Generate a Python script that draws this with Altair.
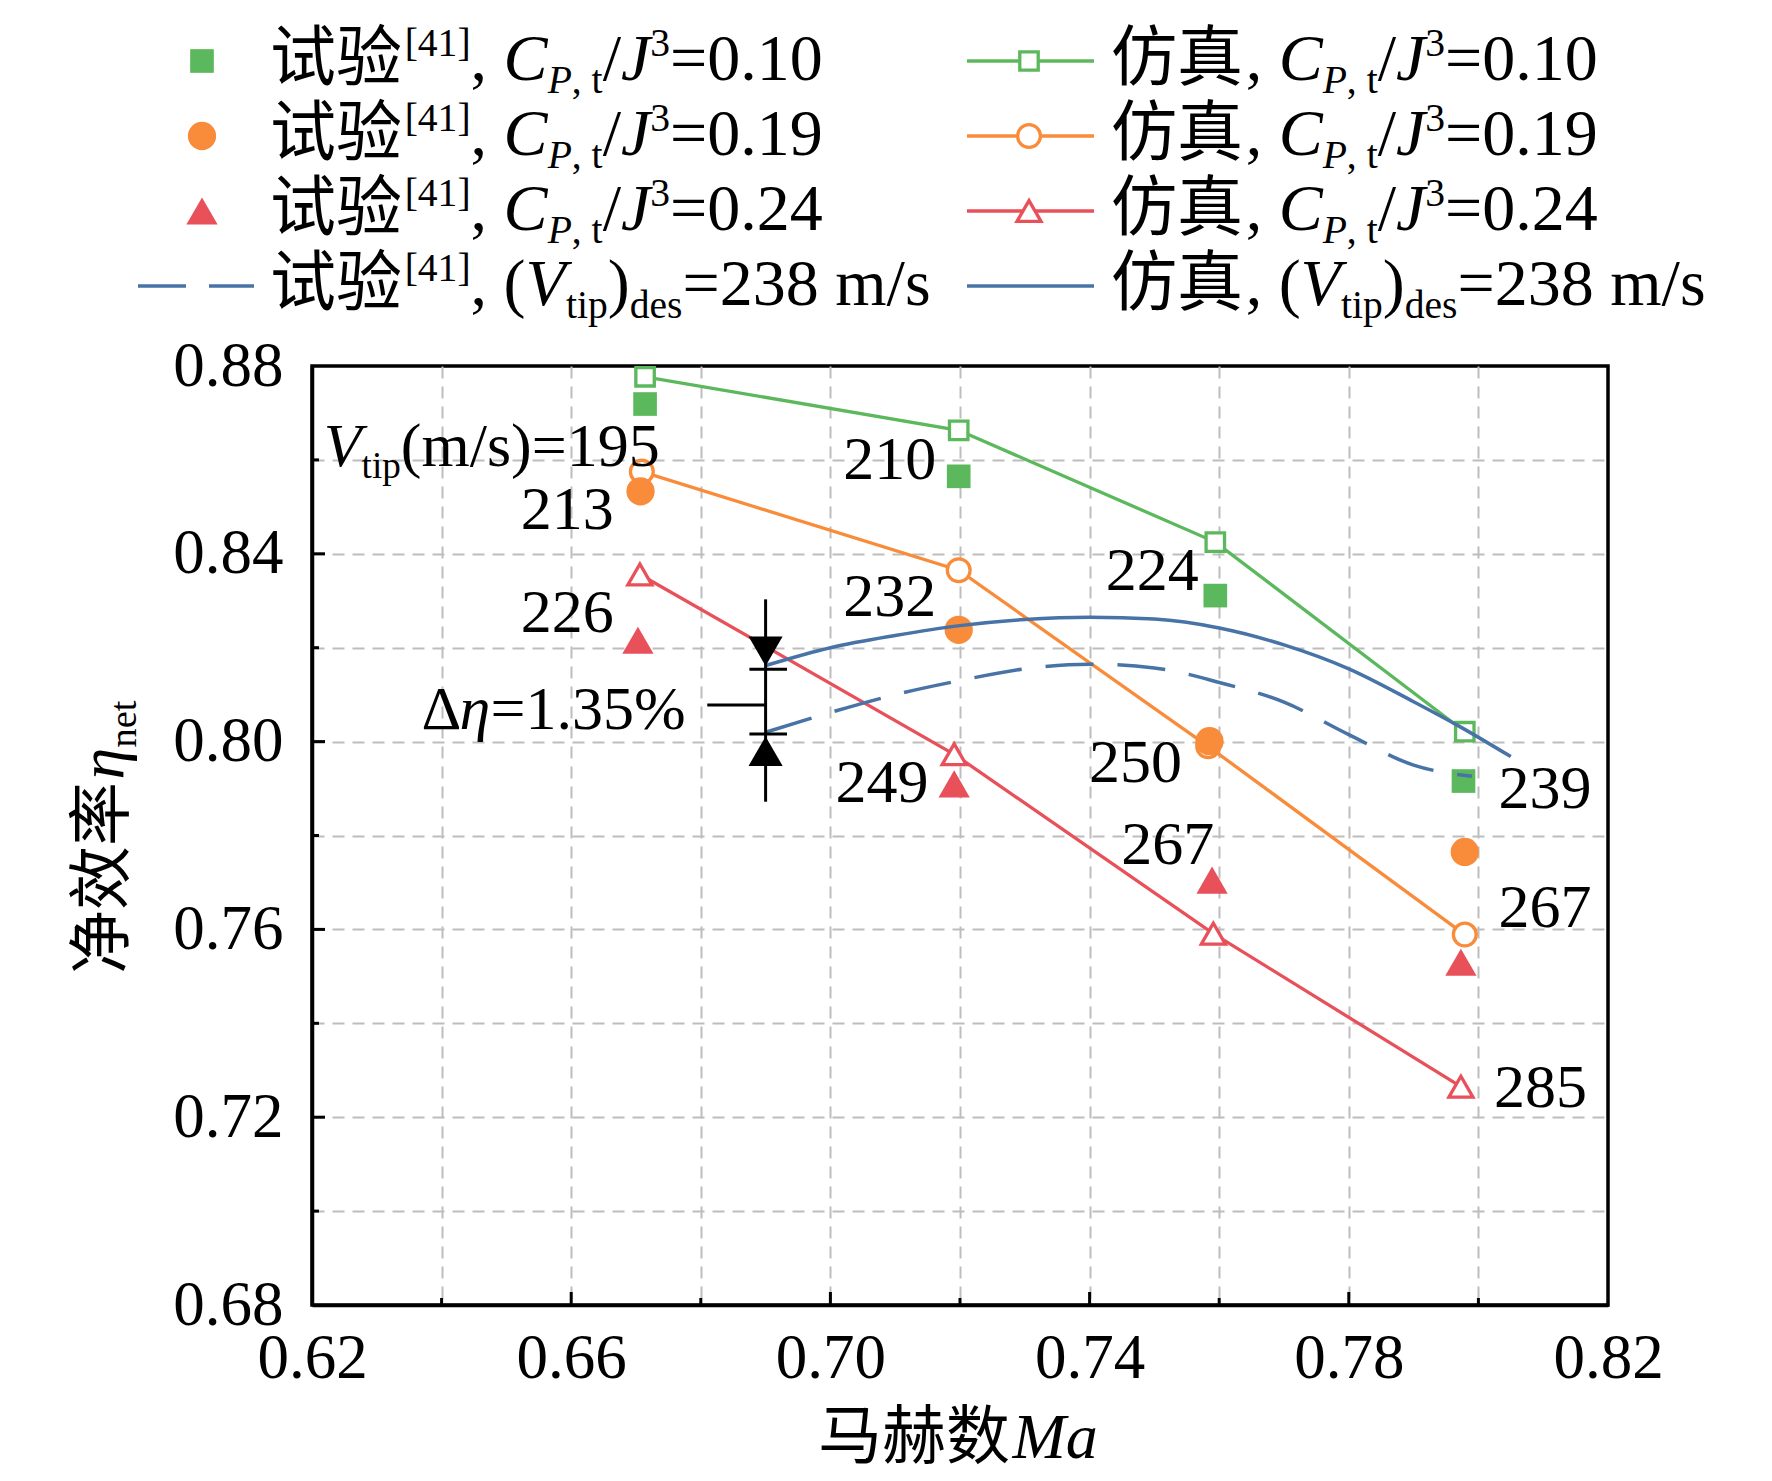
import altair as alt
import pandas as pd

# ---------------- plot geometry ----------------
W, H = 1296, 939
X0, X1 = 0.62, 0.82
Y0, Y1 = 0.68, 0.88

GREEN = "#5CB85C"
ORANGE = "#F98C3A"
RED = "#E8515A"
BLUE = "#4873A6"
GRID = "#BDBDBD"
SERIF = "Liberation Serif"
CJK = "Noto Sans CJK SC"

# ---------------- data ----------------
# simulation, open markers with lines
sim_ma_010 = [0.6714, 0.7198, 0.7594, 0.7979]
sim_eta_010 = [0.8777, 0.8663, 0.8425, 0.8021]
sim_ma_019 = [0.6709, 0.7198, 0.7583, 0.7979]
sim_eta_019 = [0.8575, 0.8365, 0.7990, 0.7589]
sim_ma_024 = [0.6706, 0.7191, 0.7591, 0.7973]
sim_eta_024 = [0.8356, 0.7973, 0.7591, 0.7265]
# experiment [41], filled markers
exp_ma_010 = [0.6714, 0.7198, 0.7594, 0.7977]
exp_eta_010 = [0.8719, 0.8565, 0.8311, 0.7916]
exp_ma_019 = [0.6707, 0.7198, 0.7585, 0.7979]
exp_eta_019 = [0.8533, 0.8238, 0.8001, 0.7765]
exp_ma_024 = [0.6703, 0.7191, 0.7589, 0.7973]
exp_eta_024 = [0.8216, 0.7910, 0.7705, 0.7530]
# design tip speed 238 m/s
des_sim_ma = [0.690, 0.700, 0.710, 0.720, 0.730, 0.740, 0.750, 0.760, 0.770, 0.780, 0.790, 0.797, 0.805]
des_sim_eta = [0.8162, 0.8200, 0.8226, 0.8247, 0.8260, 0.8265, 0.8261, 0.8242, 0.8206, 0.8155, 0.8085, 0.8033, 0.7968]
des_exp_ma = [0.690, 0.700, 0.710, 0.720, 0.730, 0.740, 0.750, 0.760, 0.770, 0.780, 0.790, 0.799]
des_exp_eta = [0.8020, 0.8062, 0.8100, 0.8130, 0.8155, 0.8165, 0.8157, 0.8126, 0.8084, 0.8015, 0.7950, 0.7926]
# tip-speed labels (left edge Ma, baseline eta)
tip_text = ["210", "213", "226", "232", "249", "224", "250", "267", "239", "267", "285"]
tip_ma = [0.7020, 0.6522, 0.6522, 0.7020, 0.7008, 0.7425, 0.7399, 0.7449, 0.8031, 0.8031, 0.8024]
tip_eta = [0.8559, 0.8453, 0.8233, 0.8268, 0.7871, 0.8322, 0.7913, 0.7740, 0.7859, 0.7605, 0.7221]
# delta-eta indicator
d_ma = 0.690
d_top, d_bot = 0.8303, 0.7872
d_hi, d_lo = 0.8154, 0.8016
d_bar = [0.6875, 0.6933]
d_lead_eta, d_lead_ma = 0.8078, 0.6810
cp_values = ["0.10", "0.19", "0.24"]
colors = [GREEN, ORANGE, RED]
shapes = ["square", "circle", "triangle-up"]
open_size = {"square": 340, "circle": 520, "triangle-up": 580}
fill_size = {"square": 560, "circle": 800, "triangle-up": 980}

x_grid = [round(0.62 + 0.02 * i, 2) for i in range(11)]
y_grid = [round(0.68 + 0.02 * i, 2) for i in range(11)]


# ---------------- helpers ----------------
def px2ma(px):
    return X0 + px / W * (X1 - X0)


def py2eta(py):
    return Y1 - py / H * (Y1 - Y0)


def ma2px(m):
    return (m - X0) / (X1 - X0) * W


def eta2py(e):
    return (Y1 - e) / (Y1 - Y0) * H


REG = {" ": 0.25, ",": 0.25, ".": 0.25, "/": 0.278, "(": 0.333, ")": 0.333, "[": 0.333,
       "]": 0.333, "=": 0.564, "%": 0.833, "m": 0.778, "s": 0.389, "t": 0.278, "i": 0.278,
       "p": 0.5, "d": 0.5, "e": 0.444, "n": 0.5, "a": 0.444, "Δ": 0.612}
ITA = {"C": 0.667, "J": 0.444, "V": 0.611, "P": 0.611, "M": 0.833, "a": 0.5, "η": 0.5}


def seg_width(text, style):
    w = 0.0
    for ch in text:
        if style == "cjk":
            w += 1.0
        elif style == "i":
            w += ITA.get(ch, REG.get(ch, 0.5))
        else:
            w += REG.get(ch, 0.5)
    if style == "cjk":
        w += 0.04
    return w


SS, SUP, SUB = 0.6, -0.36, 0.2


def rich(segs, x0, y0, fs, angle=0):
    rows = []
    adv = 0.0
    for text, style, scale, shift in segs:
        size = fs * scale
        off = shift * fs
        lead = seg_width(text[:len(text) - len(text.lstrip())], style) * size if text[:1] == " " else 0
        if angle == 0:
            px, py = x0 + adv + lead, y0 + off
        else:
            px, py = x0 + off, y0 - adv - lead
        rows.append(dict(text=text.strip(), style=style, size=size,
                         ma=px2ma(px), eta=py2eta(py), angle=angle))
        adv += seg_width(text, style) * size
    return rows


def exp_cp(v):
    return [("试验", "cjk", 1, 0), ("[41]", "n", SS, SUP), (", ", "n", 1, 0), ("C", "i", 1, 0),
            ("P", "i", SS, SUB), (", t", "n", SS, SUB), ("/", "n", 1, 0), ("J", "i", 1, 0),
            ("3", "n", SS, SUP), ("=" + v, "n", 1, 0)]


def sim_cp(v):
    return [("仿真", "cjk", 1, 0), (", ", "n", 1, 0), ("C", "i", 1, 0),
            ("P", "i", SS, SUB), (", t", "n", SS, SUB), ("/", "n", 1, 0), ("J", "i", 1, 0),
            ("3", "n", SS, SUP), ("=" + v, "n", 1, 0)]


exp_des = [("试验", "cjk", 1, 0), ("[41]", "n", SS, SUP), (", (", "n", 1, 0), ("V", "i", 1, 0),
           ("tip", "n", SS, SUB), (")", "n", 1, 0), ("des", "n", SS, SUB), ("=238 m/s", "n", 1, 0)]
sim_des = [("仿真", "cjk", 1, 0), (", (", "n", 1, 0), ("V", "i", 1, 0),
           ("tip", "n", SS, SUB), (")", "n", 1, 0), ("des", "n", SS, SUB), ("=238 m/s", "n", 1, 0)]

# ---------------- tables ----------------
sim_rows, exp_rows = [], []
for cp, c, s, sm, se, em, ee in zip(cp_values, colors, shapes,
                                    [sim_ma_010, sim_ma_019, sim_ma_024],
                                    [sim_eta_010, sim_eta_019, sim_eta_024],
                                    [exp_ma_010, exp_ma_019, exp_ma_024],
                                    [exp_eta_010, exp_eta_019, exp_eta_024]):
    for m, e in zip(sm, se):
        sim_rows.append(dict(series=cp, ma=m, eta=e, color=c, shape=s, size=open_size[s]))
    for m, e in zip(em, ee):
        exp_rows.append(dict(series=cp, ma=m, eta=e, color=c, shape=s, size=fill_size[s]))
sim_df = pd.DataFrame(sim_rows)
exp_df = pd.DataFrame(exp_rows)
des_sim_df = pd.DataFrame(dict(ma=des_sim_ma, eta=des_sim_eta))
des_exp_df = pd.DataFrame(dict(ma=des_exp_ma, eta=des_exp_eta))
tip_df = pd.DataFrame(dict(ma=tip_ma, eta=tip_eta, text=tip_text))

# legend layout (pixels relative to plot origin)
FS_LEG = 66
row_cy = [-305, -230, -155, -80]
L_SYM, L_TXT, R_LINE0, R_LINE1, R_SYM, R_TXT = -110, -42, 655, 782, 717, 799

text_rows = []
for i, v in enumerate(cp_values):
    text_rows += rich(exp_cp(v), L_TXT, row_cy[i] + 19, FS_LEG)
    text_rows += rich(sim_cp(v), R_TXT, row_cy[i] + 19, FS_LEG)
text_rows += rich(exp_des, L_TXT, row_cy[3] + 19, FS_LEG)
text_rows += rich(sim_des, R_TXT, row_cy[3] + 19, FS_LEG)
# in-plot rich annotations
text_rows += rich([("V", "i", 1, 0), ("tip", "n", SS, SUB), ("(m/s)=195", "n", 1, 0)],
                  ma2px(0.6218), eta2py(0.8587), 62)
text_rows += rich([("Δ", "n", 1, 0), ("η", "i", 1, 0), ("=1.35%", "n", 1, 0)],
                  ma2px(0.6369), eta2py(0.8027), 62)
# axis titles
text_rows += rich([("马赫数", "cjk", 1, 0), ("Ma", "i", 1, 0)], 506, 1092, 64)
text_rows += rich([("净效率", "cjk", 1, 0), ("η", "i", 1, 0), ("net", "n", SS, SUB)],
                  -189, 608, 64, angle=270)
text_df = pd.DataFrame(text_rows)

leg_sym = pd.DataFrame(
    [dict(ma=px2ma(L_SYM), eta=py2eta(row_cy[i]), color=colors[i], shape=shapes[i],
          size=fill_size[shapes[i]]) for i in range(3)])
leg_open = pd.DataFrame(
    [dict(ma=px2ma(R_SYM), eta=py2eta(row_cy[i]), color=colors[i], shape=shapes[i],
          size=open_size[shapes[i]]) for i in range(3)])
leg_lines = pd.DataFrame(
    [dict(ma=px2ma(R_LINE0), ma2=px2ma(R_LINE1), eta=py2eta(row_cy[i]), color=(colors + [BLUE])[i])
     for i in range(4)])
leg_dash = pd.DataFrame([dict(ma=px2ma(-174), ma2=px2ma(-58), eta=py2eta(row_cy[3]))])

ind_rules = pd.DataFrame([
    dict(ma=d_ma, ma2=d_ma, eta=d_bot, eta2=d_top),
    dict(ma=d_bar[0], ma2=d_bar[1], eta=d_hi, eta2=d_hi),
    dict(ma=d_bar[0], ma2=d_bar[1], eta=d_lo, eta2=d_lo),
    dict(ma=d_lead_ma, ma2=d_ma, eta=d_lead_eta, eta2=d_lead_eta),
])
arrow_h = 0.866 * 34 / 2 / H * (Y1 - Y0)
ind_arrows = pd.DataFrame([
    dict(ma=d_ma, eta=d_hi + 0.0007 + arrow_h, shape="triangle-down"),
    dict(ma=d_ma, eta=d_lo - 0.0005 - arrow_h, shape="triangle-up"),
])

xt_major = pd.DataFrame(dict(ma=[0.66, 0.70, 0.74, 0.78], eta=Y0, eta2=py2eta(H - 13)))
xt_minor = pd.DataFrame(dict(ma=[0.64, 0.68, 0.72, 0.76, 0.80], eta=Y0, eta2=py2eta(H - 7)))
yt_major = pd.DataFrame(dict(eta=[0.72, 0.76, 0.80, 0.84], ma=X0, ma2=px2ma(13)))
yt_minor = pd.DataFrame(dict(eta=[0.70, 0.74, 0.78, 0.82, 0.86], ma=X0, ma2=px2ma(7)))

# ---------------- encodings ----------------
xs = alt.Scale(domain=[X0, X1], nice=False, zero=False)
ys = alt.Scale(domain=[Y0, Y1], nice=False, zero=False)

x_axis = alt.Axis(values=x_grid, title=None, ticks=False, tickSize=0, labelFont=SERIF,
                  labelFontSize=63, labelColor="black", labelPadding=22, labelOverlap=False,
                  labelFlush=False, labelBound=False,
                  labelExpr="round(datum.value*100) % 4 == 2 ? format(datum.value, '.2f') : ''",
                  domainColor="black", domainWidth=3.5, grid=True, gridColor=GRID,
                  gridOpacity={"condition": {"test": "datum.value < 0.625 || datum.value > 0.815",
                                             "value": 0}, "value": 1},
                  gridDash=[12, 8], gridWidth=2)
y_axis = alt.Axis(values=y_grid, title=None, ticks=False, tickSize=0, labelFont=SERIF,
                  labelFontSize=63, labelColor="black", labelPadding=29, labelOverlap=False,
                  labelFlush=False, labelBound=False,
                  labelExpr="round(datum.value*100) % 4 == 0 ? format(datum.value, '.2f') : ''",
                  domainColor="black", domainWidth=3.5, grid=True, gridColor=GRID,
                  gridOpacity={"condition": {"test": "datum.value < 0.685 || datum.value > 0.875",
                                             "value": 0}, "value": 1},
                  gridDash=[12, 8], gridWidth=2)


def X(f="ma"):
    return alt.X(f + ":Q", scale=xs, axis=x_axis)


def Y(f="eta"):
    return alt.Y(f + ":Q", scale=ys, axis=y_axis)


LW = 3.3
sim_lines = alt.Chart(sim_df).mark_line(strokeWidth=LW).encode(
    x=X(), y=Y(), detail="series:N", color=alt.Color("color:N", scale=None))
sim_pts = alt.Chart(sim_df).mark_point(filled=False, fill="white", fillOpacity=1, opacity=1,
                                       strokeWidth=LW).encode(
    x=X(), y=Y(), color=alt.Color("color:N", scale=None), shape=alt.Shape("shape:N", scale=None),
    size=alt.Size("size:Q", scale=None))
exp_pts = alt.Chart(exp_df).mark_point(filled=True, opacity=1).encode(
    x=X(), y=Y(), color=alt.Color("color:N", scale=None), shape=alt.Shape("shape:N", scale=None),
    size=alt.Size("size:Q", scale=None))
des_sim = alt.Chart(des_sim_df).mark_line(color=BLUE, strokeWidth=3.5, interpolate="monotone").encode(
    x=X(), y=Y())
des_exp = alt.Chart(des_exp_df).mark_line(color=BLUE, strokeWidth=3.5, strokeDash=[48, 24],
                                          interpolate="monotone").encode(x=X(), y=Y())
tip_lbl = alt.Chart(tip_df).mark_text(font=SERIF, fontSize=62, align="left", baseline="alphabetic",
                                      color="black").encode(x=X(), y=Y(), text="text:N")

ind_r = alt.Chart(ind_rules).mark_rule(color="black", strokeWidth=3).encode(
    x=X(), x2="ma2:Q", y=Y(), y2="eta2:Q")
ind_a = alt.Chart(ind_arrows).mark_point(filled=True, opacity=1, color="black", size=1156).encode(
    x=X(), y=Y(), shape=alt.Shape("shape:N", scale=None))

ticks = [
    alt.Chart(xt_major).mark_rule(color="black", strokeWidth=3).encode(x=X(), y=Y(), y2="eta2:Q"),
    alt.Chart(xt_minor).mark_rule(color="black", strokeWidth=3).encode(x=X(), y=Y(), y2="eta2:Q"),
    alt.Chart(yt_major).mark_rule(color="black", strokeWidth=3).encode(y=Y(), x=X(), x2="ma2:Q"),
    alt.Chart(yt_minor).mark_rule(color="black", strokeWidth=3).encode(y=Y(), x=X(), x2="ma2:Q"),
]

leg_l = alt.Chart(leg_lines).mark_rule(strokeWidth=LW).encode(
    x=X(), x2="ma2:Q", y=Y(), color=alt.Color("color:N", scale=None))
leg_d = alt.Chart(leg_dash).mark_rule(strokeWidth=3.5, color=BLUE, strokeDash=[48, 23]).encode(
    x=X(), x2="ma2:Q", y=Y())
leg_f = alt.Chart(leg_sym).mark_point(filled=True, opacity=1).encode(
    x=X(), y=Y(), color=alt.Color("color:N", scale=None), shape=alt.Shape("shape:N", scale=None),
    size=alt.Size("size:Q", scale=None))
leg_o = alt.Chart(leg_open).mark_point(filled=False, fill="white", fillOpacity=1, opacity=1,
                                       strokeWidth=LW).encode(
    x=X(), y=Y(), color=alt.Color("color:N", scale=None), shape=alt.Shape("shape:N", scale=None),
    size=alt.Size("size:Q", scale=None))


def text_layer(style, font, font_style):
    return alt.Chart(text_df).transform_filter(alt.datum.style == style).mark_text(
        font=font, fontStyle=font_style, align="left", baseline="alphabetic", color="black").encode(
        x=X(), y=Y(), text="text:N", size=alt.Size("size:Q", scale=None),
        angle=alt.Angle("angle:Q", scale=None))


txt_n = text_layer("n", SERIF, "normal")
txt_i = text_layer("i", SERIF, "italic")
txt_c = text_layer("cjk", CJK, "normal")

chart = alt.layer(
    *ticks, sim_lines, sim_pts, exp_pts, des_sim, des_exp, tip_lbl, ind_r, ind_a,
    leg_l, leg_d, leg_f, leg_o, txt_n, txt_i, txt_c
).properties(
    width=W, height=H,
    background="white",
    autosize=alt.AutoSizeParams(type="none"),
    padding={"left": 304, "top": 358, "right": 150, "bottom": 176},
).configure_view(stroke="black", strokeWidth=3.5)

chart.save("out.html", embed_options={"renderer": "svg", "actions": False})
